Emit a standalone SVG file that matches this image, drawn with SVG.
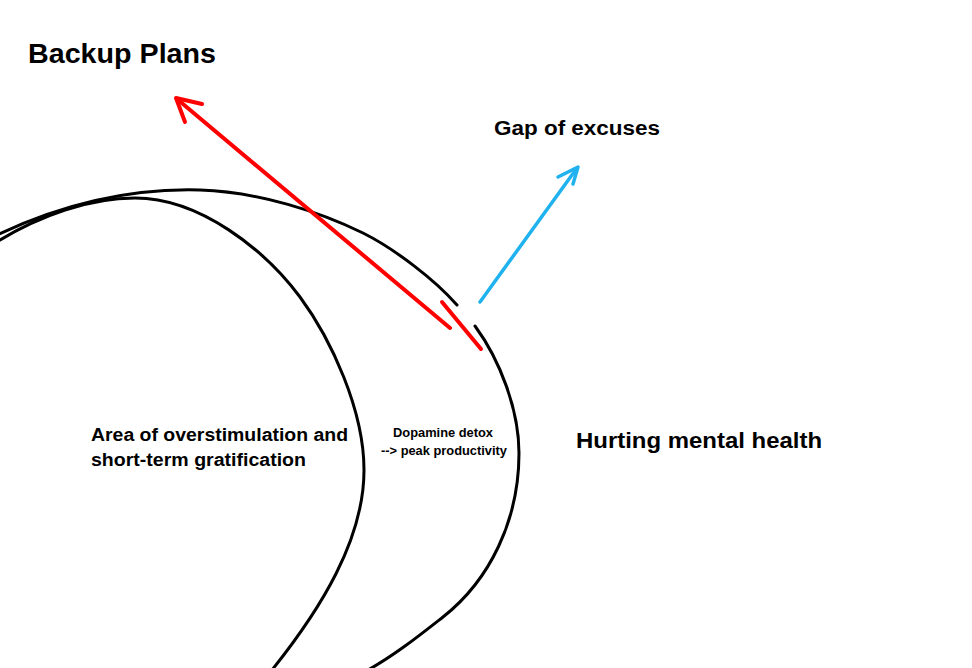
<svg xmlns="http://www.w3.org/2000/svg" width="972" height="668" viewBox="0 0 972 668">
<style>
.ring{fill:none;stroke:#000;stroke-width:3;stroke-linecap:round}
.red{fill:none;stroke:#ff0000;stroke-width:4;stroke-linecap:round;stroke-linejoin:round}
.blue{fill:none;stroke:#1fb2ee;stroke-width:3.5;stroke-linecap:round;stroke-linejoin:round}
text{font-family:"Liberation Sans",Arial,sans-serif;font-weight:bold;fill:#000}
</style>
<rect width="972" height="668" fill="#fff"/>
<g id="inner-circle">
<path class="ring" d="M -5,243 C 40,215 90,198 135,198 C 200,198 265,250 300,297 C 331,339 364,410 364,470 C 364,540 320,610 272,670"/>
</g>
<g id="outer-circle">
<path class="ring" d="M -5,236 C 60,205 130,188 200,190 C 260,192 320,212 363,233 C 395,249 435,280 457,305"/>
<path class="ring" d="M 475,326 C 500,360 519,410 519,453 C 519,520 490,580 443,617 C 420,635 395,655 368,670"/>
</g>
<g id="connectors">
<line class="red" x1="450" y1="328" x2="177" y2="99"/>
<polyline class="red" points="202,104 176,98 185,122"/>
<line class="red" x1="442" y1="302" x2="481" y2="349"/>
<line class="blue" x1="480" y1="302" x2="577" y2="168"/>
<polyline class="blue" points="558,177 578,167 573,184"/>
</g>
<g id="label-backup">
<text x="28" y="63" font-size="28" textLength="188" lengthAdjust="spacingAndGlyphs">Backup Plans</text>
</g>
<g id="label-gap">
<text x="494" y="135" font-size="20" textLength="166" lengthAdjust="spacingAndGlyphs">Gap of excuses</text>
</g>
<g id="label-hurting">
<text x="576" y="448" font-size="22" textLength="246" lengthAdjust="spacingAndGlyphs">Hurting mental health</text>
</g>
<g id="label-area">
<text x="91" y="441" font-size="18" textLength="257" lengthAdjust="spacingAndGlyphs">Area of overstimulation and</text>
<text x="91" y="466" font-size="18" textLength="215" lengthAdjust="spacingAndGlyphs">short-term gratification</text>
</g>
<g id="label-dopamine">
<text x="393" y="437" font-size="13" textLength="100" lengthAdjust="spacingAndGlyphs">Dopamine detox</text>
<text x="381" y="455" font-size="13" textLength="126" lengthAdjust="spacingAndGlyphs">--&gt; peak productivity</text>
</g>
</svg>
